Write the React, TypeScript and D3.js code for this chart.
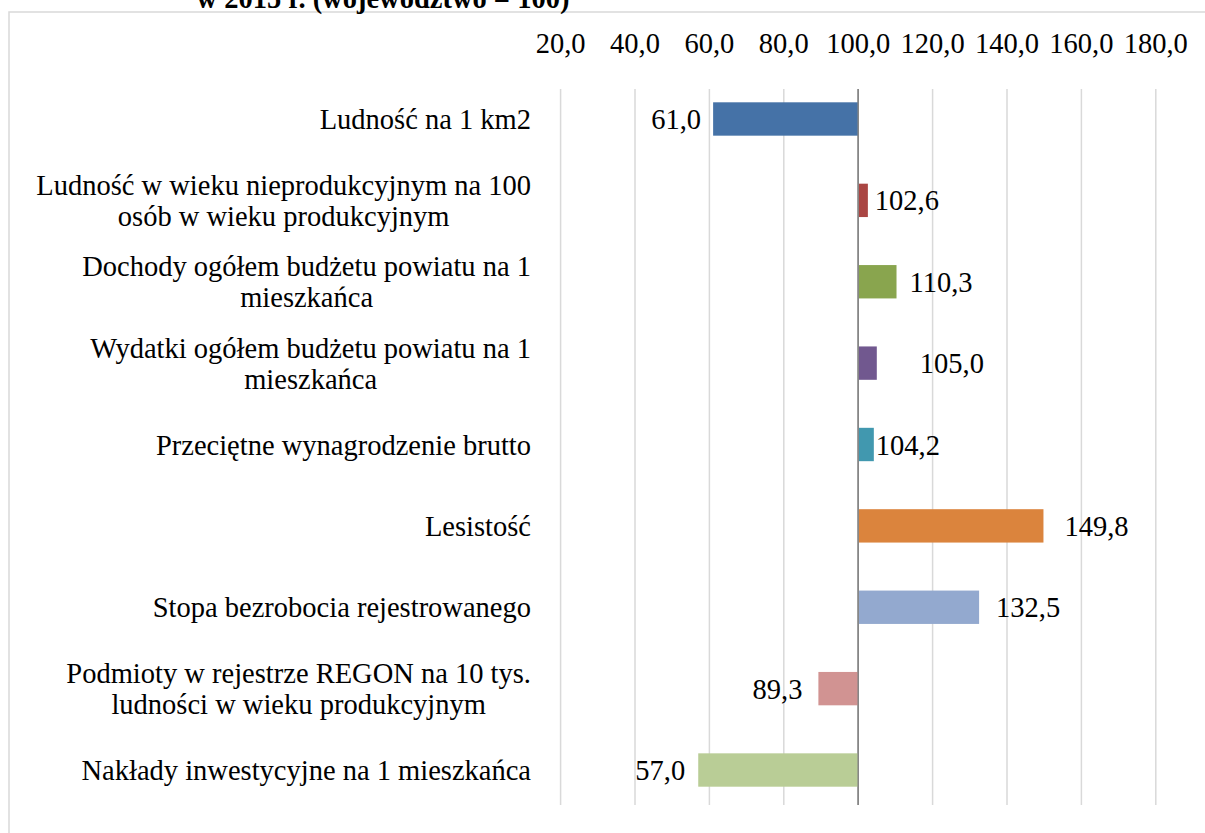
import React, { useEffect, useRef } from 'react';
import * as d3 from 'd3';

// categories, top to bottom
const categories: string[][] = [
  ['Ludność na 1 km2'],
  ['Ludność w wieku nieprodukcyjnym na 100', 'osób w wieku produkcyjnym'],
  ['Dochody ogółem budżetu powiatu na 1', 'mieszkańca'],
  ['Wydatki ogółem budżetu powiatu na 1', 'mieszkańca'],
  ['Przeciętne wynagrodzenie brutto '],
  ['Lesistość'],
  ['Stopa bezrobocia rejestrowanego'],
  ['Podmioty w rejestrze REGON na 10 tys.', 'ludności w wieku produkcyjnym'],
  ['Nakłady inwestycyjne na 1 mieszkańca'],
];
const values = [61.0, 102.6, 110.3, 105.0, 104.2, 149.8, 132.5, 89.3, 57.0];
const tickValues = [20, 40, 60, 80, 100, 120, 140, 160, 180];
const titleTail = 'w 2015 r. (województwo = 100)';

const colors = ['#4572A7', '#AA4643', '#89A54E', '#71588F', '#4198AF', '#DB843D', '#93A9CF', '#D19392', '#B9CD96'];
// hand-placed data labels in the original (px away from the bar's end)
const labelShift = [-12, 7, 13, 43, 2, 21, 17, -16, -13];

const W = 1205;
const H = 833;
const FONT = '"Liberation Serif", "Times New Roman", serif';
const FS = 28.5;

const App = () => {
  const ref = useRef<HTMLDivElement>(null);

  useEffect(() => {
    document.body.style.margin = '0';
    const root = d3.select(ref.current);
    root.selectAll('*').remove();

    const svg = root.append('svg')
      .attr('width', W)
      .attr('height', H)
      .style('display', 'block')
      .style('font-family', FONT);

    svg.append('rect').attr('width', W).attr('height', H).attr('fill', '#fff');

    // chart frame
    svg.append('rect')
      .attr('x', 9).attr('y', 12)
      .attr('width', W + 20).attr('height', H + 20)
      .attr('fill', 'none')
      .attr('stroke', '#d9d9d9')
      .attr('stroke-width', 1.5);

    // title, cut off at the top
    svg.append('text')
      .attr('x', 383).attr('y', 8)
      .attr('text-anchor', 'middle')
      .attr('font-weight', 'bold')
      .attr('font-size', FS)
      .text(titleTail);

    const x = d3.scaleLinear().domain([20, 180]).range([560.6, 1155.8]);
    const y = d3.scaleBand<number>()
      .domain(d3.range(values.length))
      .range([78.3, 810.7])
      .paddingInner(0.59)
      .paddingOuter(0.295);

    const gridTop = 89;
    const gridBottom = 805;

    // gridlines
    svg.append('g').selectAll('line')
      .data(tickValues)
      .enter()
      .append('line')
      .attr('x1', d => x(d)).attr('x2', d => x(d))
      .attr('y1', gridTop).attr('y2', gridBottom)
      .attr('stroke', d => (d === 100 ? '#868686' : '#d9d9d9'))
      .attr('stroke-width', d => (d === 100 ? 1.5 : 1.5));

    // tick labels on top
    svg.append('g').selectAll('text')
      .data(tickValues)
      .enter()
      .append('text')
      .attr('x', d => x(d))
      .attr('y', 53)
      .attr('text-anchor', 'middle')
      .attr('font-size', FS)
      .attr('fill', '#000')
      .text(d => d3.format('.1f')(d).replace('.', ','));

    // bars from the 100 baseline
    svg.append('g').selectAll('rect')
      .data(values)
      .enter()
      .append('rect')
      .attr('x', d => Math.min(x(d), x(100)))
      .attr('y', (_, i) => y(i)!)
      .attr('width', d => Math.abs(x(d) - x(100)))
      .attr('height', y.bandwidth())
      .attr('fill', (_, i) => colors[i]);

    // redraw the axis line over the bars
    svg.append('line')
      .attr('x1', x(100)).attr('x2', x(100))
      .attr('y1', gridTop).attr('y2', gridBottom)
      .attr('stroke', '#868686')
      .attr('stroke-width', 1.5);

    // data labels
    svg.append('g').selectAll('text')
      .data(values)
      .enter()
      .append('text')
      .attr('x', (d, i) => x(d) + labelShift[i])
      .attr('y', (_, i) => y(i)! + y.bandwidth() / 2 + 10)
      .attr('text-anchor', d => (d < 100 ? 'end' : 'start'))
      .attr('font-size', FS)
      .text(d => d3.format('.1f')(d).replace('.', ','));

    // category labels, lines centred inside a right-aligned block
    const rightEdge = 531;
    const lineH = 31;
    categories.forEach((lines, i) => {
      const cy = y(i)! + y.bandwidth() / 2;
      const t = svg.append('text')
        .attr('font-size', FS)
        .attr('text-anchor', 'middle');
      const spans = lines.map((ln, k) =>
        t.append('tspan')
          .attr('y', cy + 10 + (k - (lines.length - 1) / 2) * lineH)
          .text(ln)
      );
      const maxW = d3.max(spans, s => (s.node() as SVGTSpanElement).getComputedTextLength()) || 0;
      spans.forEach(s => s.attr('x', rightEdge - maxW / 2));
    });
  }, []);

  return <div ref={ref}></div>;
};

export default App;
